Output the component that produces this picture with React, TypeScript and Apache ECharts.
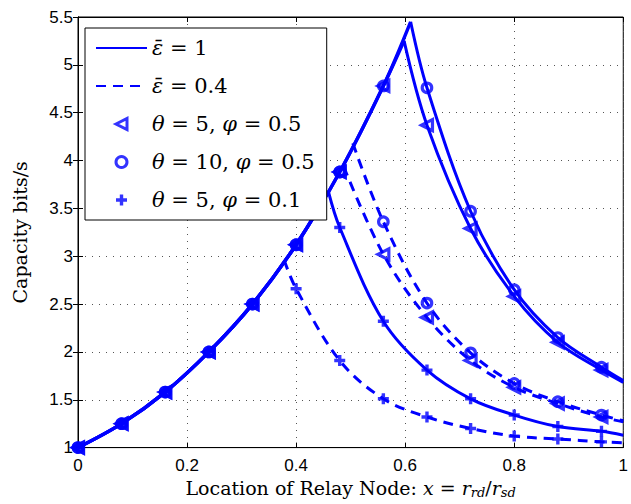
import React, { useEffect, useRef } from 'react';
import * as echarts from 'echarts';

// x positions of the computed points (markers every 0.08, plus the end point x = 1)
const X_GRID = [0, 0.08, 0.16, 0.24, 0.32, 0.4, 0.48, 0.56, 0.64, 0.72, 0.8, 0.88, 0.96, 1.0];

// epsilon = 1 (solid)
const Y_E1_T5_P05 = [1.0, 1.25, 1.58, 2.0, 2.5, 3.12, 3.88, 4.78, 4.37, 3.29, 2.58, 2.1, 1.81, 1.68];
const PEAK_E1_T5_P05 = [0.598, 5.25];
const Y_E1_T10_P05 = [1.0, 1.25, 1.58, 2.0, 2.5, 3.12, 3.88, 4.78, 4.76, 3.47, 2.65, 2.15, 1.84, 1.7];
const PEAK_E1_T10_P05 = [0.61, 5.45];
const Y_E1_T5_P01 = [1.0, 1.25, 1.58, 2.0, 2.5, 3.12, 3.3, 2.32, 1.81, 1.51, 1.34, 1.22, 1.17, 1.13];
const PEAK_E1_T5_P01 = [0.459, 3.68];

// epsilon = 0.4 (dashed)
const Y_E04_T5_P05 = [1.0, 1.25, 1.58, 2.0, 2.5, 3.12, 3.88, 3.02, 2.36, 1.91, 1.63, 1.46, 1.32, 1.27];
const PEAK_E04_T5_P05 = [0.487, 3.94];
const Y_E04_T10_P05 = [1.0, 1.25, 1.58, 2.0, 2.5, 3.12, 3.88, 3.36, 2.51, 1.99, 1.67, 1.48, 1.34, 1.28];
const PEAK_E04_T10_P05 = [0.504, 4.18];
const Y_E04_T5_P01 = [1.0, 1.25, 1.58, 2.0, 2.5, 2.66, 1.91, 1.51, 1.32, 1.2, 1.12, 1.09, 1.06, 1.05];
const PEAK_E04_T5_P01 = [0.378, 2.96];

const X_TICKS = ['0', '0.2', '0.4', '0.6', '0.8', '1'];
const Y_TICKS = ['1', '1.5', '2', '2.5', '3', '3.5', '4', '4.5', '5', '5.5'];

const NAME_E1 = 'ε̄ = 1';
const NAME_E04 = 'ε̄ = 0.4';
const NAME_T5P05 = 'θ = 5, φ = 0.5';
const NAME_T10P05 = 'θ = 10, φ = 0.5';
const NAME_T5P01 = 'θ = 5, φ = 0.1';

const LEGEND_RICH: Record<string, string> = {
  [NAME_E1]: '{it|ε̄} = 1',
  [NAME_E04]: '{it|ε̄} = 0.4',
  [NAME_T5P05]: '{it|θ} = 5, {it|φ} = 0.5',
  [NAME_T10P05]: '{it|θ} = 10, {it|φ} = 0.5',
  [NAME_T5P01]: '{it|θ} = 5, {it|φ} = 0.1',
};

const BLUE = '#0000ff';
const SERIF = 'DejaVu Serif';

function curve(name: string, ys: number[], peak: number[], dashed: boolean, withRise: boolean) {
  const pts = X_GRID.map((x, i) => [x, ys[i]]);
  const rise = pts.filter((p) => p[0] < peak[0]).concat([peak]);
  const fall = [peak].concat(pts.filter((p) => p[0] > peak[0]));
  const base: any = {
    type: 'line',
    name,
    showSymbol: false,
    symbol: 'none',
    smooth: 0.35,
    silent: true,
    z: 3,
    lineStyle: { color: BLUE, width: 3, type: dashed ? [10, 7] : 'solid' },
    itemStyle: { color: BLUE },
  };
  const out: any[] = [];
  out.push({ ...base, data: fall });
  if (withRise) out.push({ ...base, data: rise, lineStyle: { ...base.lineStyle, width: 3.4 } });
  return out;
}

function markers(...arrays: number[][]) {
  const out: number[][] = [];
  arrays.forEach((ys) => {
    for (let i = 0; i < X_GRID.length - 1; i++) out.push([X_GRID[i], ys[i]]);
  });
  return out;
}

export default function App() {
  const ref = useRef<HTMLDivElement>(null);
  useEffect(() => {
    const chart = echarts.init(ref.current!, null, { renderer: 'svg' });
    const markerStyle = { color: 'transparent', borderColor: BLUE, borderWidth: 3.2 };
    const hideDot = { color: 'transparent', borderColor: 'transparent', borderWidth: 0, opacity: 0 };
    const legendMarker = { color: 'transparent', borderColor: BLUE, borderWidth: 3 };
    const option: any = {
      animation: false,
      backgroundColor: '#fff',
      grid: { left: 78, right: 2, top: 17, bottom: 53, show: true, borderColor: '#000', borderWidth: 1 },
      legend: {
        orient: 'vertical',
        left: 85,
        top: 28,
        padding: [9, 12, 9, 10],
        itemWidth: 51,
        itemHeight: 11,
        itemGap: 16,
        backgroundColor: '#fff',
        borderColor: '#000',
        borderWidth: 1,
        data: [
          { name: NAME_E1, itemStyle: hideDot },
          { name: NAME_E04, itemStyle: hideDot },
          { name: NAME_T5P05, itemStyle: legendMarker },
          { name: NAME_T10P05, itemStyle: legendMarker },
          { name: NAME_T5P01, itemStyle: { ...legendMarker, borderWidth: 3.4 } },
        ],
        formatter: (n: string) => LEGEND_RICH[n] || n,
        textStyle: {
          fontFamily: SERIF,
          fontSize: 21,
          color: '#000',
          lineHeight: 22,
          rich: { it: { fontFamily: SERIF, fontSize: 21, fontStyle: 'italic', color: '#000', lineHeight: 22 } },
        },
      },
      xAxis: [
        {
          type: 'value',
          min: 0,
          max: 1,
          interval: 0.2,
          axisLine: { show: true, lineStyle: { color: '#000', width: 1 } },
          axisTick: { show: true, inside: true, length: 5, lineStyle: { color: '#000' } },
          axisLabel: {
            color: '#000',
            fontSize: 17,
            fontFamily: 'Liberation Sans',
            margin: 9,
            formatter: (v: number) => X_TICKS[Math.round(v / 0.2)],
          },
          splitLine: { show: true, lineStyle: { color: '#555', type: [1, 6], width: 1 } },
          name: '{n|Location of Relay Node: }{it|x}{n| = }{it|r}{sub|rd}{n|/}{it|r}{sub|sd}',
          nameLocation: 'middle',
          nameGap: 26,
          nameTextStyle: {
            color: '#000',
            fontFamily: SERIF,
            fontSize: 19,
            rich: {
              n: { fontFamily: SERIF, fontSize: 19, color: '#000' },
              it: { fontFamily: SERIF, fontSize: 19, fontStyle: 'italic', color: '#000' },
              sub: { fontFamily: SERIF, fontSize: 13, fontStyle: 'italic', color: '#000', padding: [9, 0, 0, 0] },
            },
          },
        },
        {
          type: 'value',
          position: 'top',
          min: 0,
          max: 1,
          interval: 0.2,
          axisLine: { show: true, lineStyle: { color: '#000' } },
          axisTick: { show: true, inside: true, length: 5, lineStyle: { color: '#000' } },
          axisLabel: { show: false },
          splitLine: { show: false },
        },
      ],
      yAxis: [
        {
          type: 'value',
          min: 1,
          max: 5.5,
          interval: 0.5,
          axisLine: { show: true, lineStyle: { color: '#000', width: 1 } },
          axisTick: { show: true, inside: true, length: 5, lineStyle: { color: '#000' } },
          axisLabel: {
            color: '#000',
            fontSize: 17,
            fontFamily: 'Liberation Sans',
            margin: 5,
            formatter: (v: number) => Y_TICKS[Math.round((v - 1) / 0.5)],
          },
          splitLine: { show: true, lineStyle: { color: '#555', type: [1, 6], width: 1 } },
          name: 'Capacity bits/s',
          nameLocation: 'middle',
          nameGap: 49,
          nameRotate: 90,
          nameTextStyle: { color: '#000', fontFamily: SERIF, fontSize: 19 },
        },
        {
          type: 'value',
          position: 'right',
          min: 1,
          max: 5.5,
          interval: 0.5,
          axisLine: { show: true, lineStyle: { color: '#000' } },
          axisTick: { show: true, inside: true, length: 5, lineStyle: { color: '#000' } },
          axisLabel: { show: false },
          splitLine: { show: false },
        },
      ],
      series: [
        ...curve(NAME_E1, Y_E1_T5_P05, PEAK_E1_T5_P05, false, true),
        ...curve(NAME_E1, Y_E1_T10_P05, PEAK_E1_T10_P05, false, true),
        ...curve(NAME_E1, Y_E1_T5_P01, PEAK_E1_T5_P01, false, true),
        ...curve(NAME_E04, Y_E04_T5_P05, PEAK_E04_T5_P05, true, false),
        ...curve(NAME_E04, Y_E04_T10_P05, PEAK_E04_T10_P05, true, false),
        ...curve(NAME_E04, Y_E04_T5_P01, PEAK_E04_T5_P01, true, false),
        {
          type: 'scatter',
          name: NAME_T5P05,
          symbol: 'path://M0,5L10,0L10,10Z',
          symbolSize: 11,
          symbolKeepAspect: true,
          itemStyle: markerStyle,
          z: 4,
          silent: true,
          data: markers(Y_E1_T5_P05, Y_E04_T5_P05),
        },
        {
          type: 'scatter',
          name: NAME_T10P05,
          symbol: 'circle',
          symbolSize: 9.5,
          itemStyle: markerStyle,
          z: 4,
          silent: true,
          data: markers(Y_E1_T10_P05, Y_E04_T10_P05),
        },
        {
          type: 'scatter',
          name: NAME_T5P01,
          symbol: 'path://M5,0L5,10M0,5L10,5',
          symbolSize: 11,
          symbolKeepAspect: true,
          itemStyle: { color: 'transparent', borderColor: BLUE, borderWidth: 3.4 },
          z: 4,
          silent: true,
          data: markers(Y_E1_T5_P01, Y_E04_T5_P01),
        },
      ],
    };
    chart.setOption(option);
    return () => chart.dispose();
  }, []);
  return <div ref={ref} style={{ position: 'fixed', left: 0, top: 0, width: 631, height: 504 }} />;
}
